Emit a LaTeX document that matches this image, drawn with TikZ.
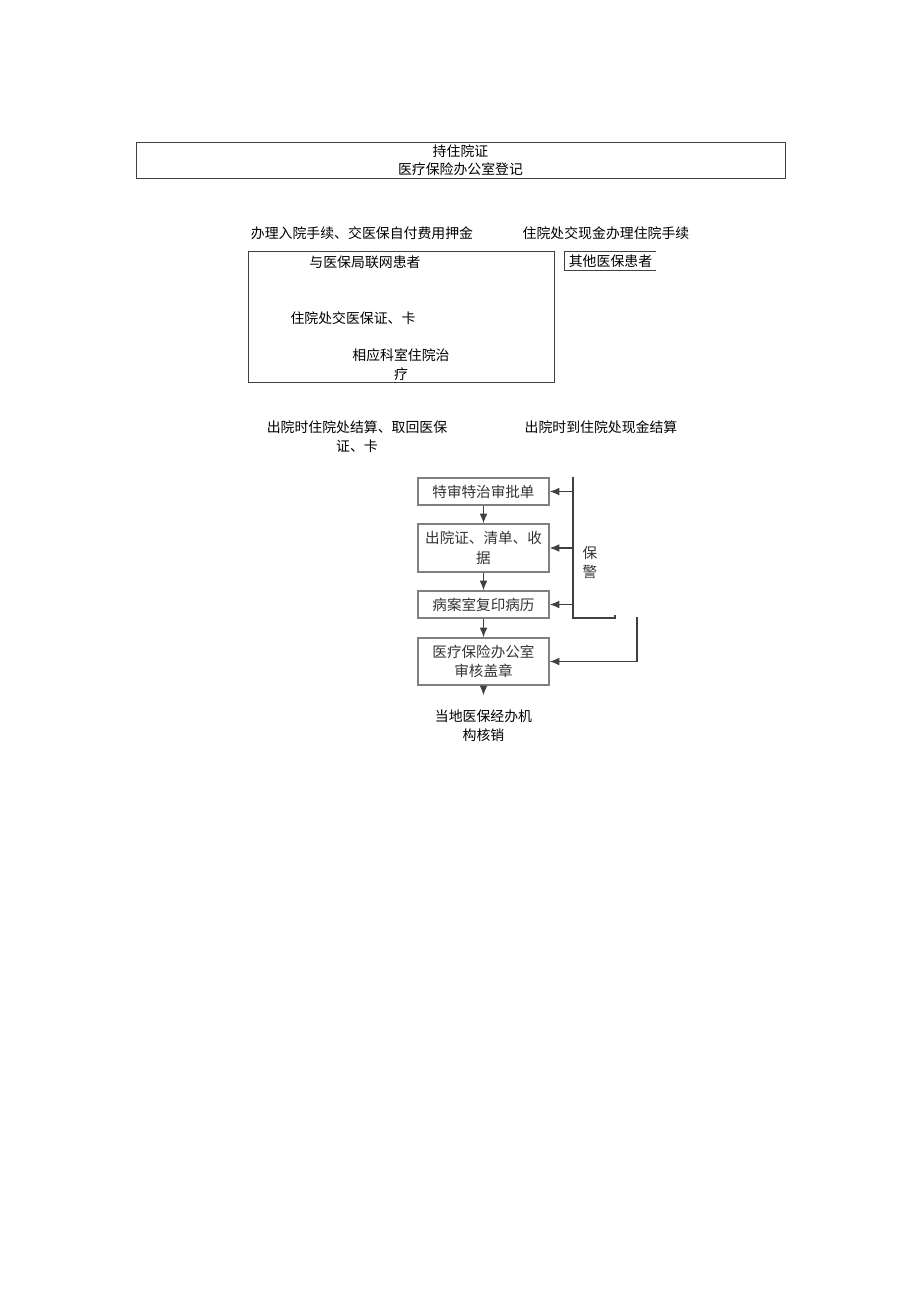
\documentclass[tikz,border=0pt]{standalone}
\usepackage{fontspec}
\setmainfont{Noto Sans CJK SC}
\usetikzlibrary{arrows.meta,positioning}
\definecolor{boxgray}{HTML}{808080}
\definecolor{linegray}{HTML}{404040}
\definecolor{inkgray}{HTML}{333333}

\begin{document}
\begin{tikzpicture}[x=0.02cm,y=-0.02cm,font=\fontsize{7.9}{10.8}\selectfont,
  plain/.style={inner sep=0pt,align=center},
  frame/.style={draw=black!75,line width=0.45pt},
  flow/.style={draw=boxgray,line width=0.8pt,minimum width=2.62cm,align=center,text=inkgray,
    font=\fontsize{8.3}{11.2}\selectfont,inner sep=0pt},
  arr/.style={-{Latex[length=5.5pt,width=4.4pt]},linegray,line width=0.6pt}]
\useasboundingbox (0,0) rectangle (920,1301);
% top: registration
\node[frame,minimum width=12.98cm,minimum height=0.72cm,plain,font=\fontsize{7.9}{10.2}\selectfont] (reg) at (460.5,160) {持住院证\\医疗保险办公室登记};
% admission
\node[plain] (admit) at (362,233) {办理入院手续、交医保自付费用押金};
\node[plain] (cashin) at (606,233) {住院处交现金办理住院手续};
\node[frame,minimum width=6.12cm,minimum height=2.62cm,inner sep=0pt] (netbox) at (401,316.5) {};
\node[plain] (netpat) at (365,262) {与医保局联网患者};
\node[plain] (card) at (353,318) {住院处交医保证、卡};
\node[plain] (ward) at (401,364.5) {相应科室住院治\\疗};
\node[plain,minimum width=1.82cm,minimum height=0.38cm] (other) at (610.5,261) {其他医保患者};
\draw[black!75,line width=0.45pt] (other.north east) -- (other.north west) -- (other.south west) -- (other.south east);
% discharge
\node[plain] (outcard) at (357,436.5) {出院时住院处结算、取回医保\\证、卡};
\node[plain] (outcash) at (601,427) {出院时到住院处现金结算};
% flow
\node[flow,minimum height=0.54cm] (b1) at (483.5,491.5) {特审特治审批单};
\node[flow,minimum height=0.96cm] (b2) at (483.5,548) {出院证、清单、收\\据};
\node[flow,minimum height=0.54cm] (b3) at (483.5,604.5) {病案室复印病历};
\node[flow,minimum height=0.94cm] (b4) at (483.5,661.5) {医疗保险办公室\\审核盖章};
\node[plain,font=\fontsize{7.9}{10.8}\selectfont] (local) at (483.5,725.5) {当地医保经办机\\构核销};
\foreach \a/\b in {b1/b2,b2/b3,b3/b4} \draw[arr] (\a) -- (\b);
\draw[arr,shorten >=8pt] (b4.south) -- (local.north);
% side bracket
\coordinate (bt) at (573,477);
\coordinate (bb) at (573,618);
\coordinate (be) at (615,618);
\draw[linegray,line width=0.6pt] (bt) -- (bb) -- (be) -- ++(0,-3);
\foreach \n in {b1,b2,b3} \draw[arr] (bt |- \n.east) -- (\n.east);
\coordinate (st) at (637,617);
\draw[arr] (st) |- (b4.east);
\node[plain,text=inkgray,font=\fontsize{8.3}{10.8}\selectfont] (guard) at (590,562.5) {保\\警};
\end{tikzpicture}
\end{document}
